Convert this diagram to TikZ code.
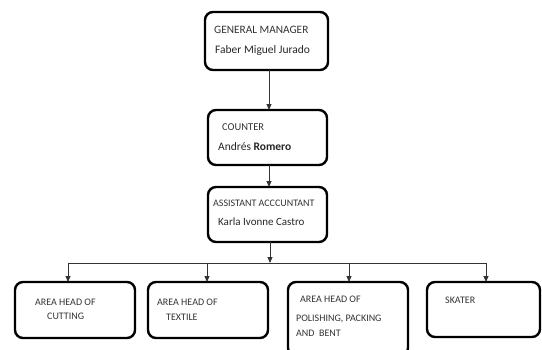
\documentclass[tikz,border=0pt]{standalone}
\usepackage{fontspec}
\setmainfont{Carlito}
\usetikzlibrary{arrows.meta}
\begin{document}
\begin{tikzpicture}[x=1pt,y=-1pt,
  box/.style={draw=black,line width=2.4pt,rounded corners=8pt},
  link/.style={draw=black!80,line width=0.8pt},
  arr/.style={link,-{Triangle[length=6pt,width=5pt]}},
  lbl/.style={anchor=west,inner sep=0pt,text=black!80,font=\fontsize{10}{12}\selectfont},
  person/.style={anchor=west,inner sep=0pt,text=black!85,font=\fontsize{11.5}{14}\selectfont}]
\useasboundingbox (0,0) rectangle (542,349);

% Boxes of the chart
\draw[box] (205,12) rectangle (328,70);
\draw[box] (208,110) rectangle (327,165);
\draw[box] (208,187) rectangle (327,242);
\draw[box] (15,282) rectangle (135,338);
\draw[box] (148,282) rectangle (268,338);
\draw[box] (288,282) rectangle (408,356);
\draw[box] (427,282) rectangle (540,337);

% Named anchors for the connectors
\coordinate (gmB) at (269,70);
\coordinate (coT) at (269,110);
\coordinate (coB) at (269,165);
\coordinate (asT) at (269,187);
\coordinate (asB) at (270,242);
\coordinate (bus) at (270,263);
\coordinate (busL) at (68,263);
\coordinate (busR) at (486,263);
\coordinate (b1) at (68,282);
\coordinate (b2) at (207,282);
\coordinate (b3) at (349,282);
\coordinate (b4) at (486,282);

\draw[arr] (gmB) -- (coT);
\draw[arr] (coB) -- (asT);
\draw[arr] (asB) -- (bus);
\draw[link] (busL) -- (busR);
\draw[arr] (busL) -- (b1);
\draw[arr] (207,263) -- (b2);
\draw[arr] (349,263) -- (b3);
\draw[arr] (busR) -- (b4);

% Texts
\node[lbl,font=\fontsize{11.3}{13}\selectfont] (t1) at (214,30) {GENERAL MANAGER};
\node[person] (n1) at (215,50) {Faber Miguel Jurado};
\node[lbl,font=\fontsize{10.5}{13}\selectfont] (t2) at (222,127) {COUNTER};
\node[person] (n2) at (218,147) {Andrés \textbf{Romero}};
\node[lbl] (t3) at (213,203) {ASSISTANT ACCCUNTANT};
\node[person,font=\fontsize{11}{13}\selectfont] (n3) at (218,222) {Karla Ivonne Castro};
\node[lbl] (a1) at (35,302) {AREA HEAD OF};
\node[lbl] (a1b) at (47,316) {CUTTING};
\node[lbl] (a2) at (157,302) {AREA HEAD OF};
\node[lbl] (a2b) at (166,317) {TEXTILE};
\node[lbl] (a3) at (300,299) {AREA HEAD OF};
\node[lbl] (a3b) at (296,319) {POLISHING, PACKING};
\node[lbl] (a3c) at (296,333) {AND\ \ BENT};
\node[lbl] (a4) at (445,300) {SKATER};
\end{tikzpicture}
\end{document}
